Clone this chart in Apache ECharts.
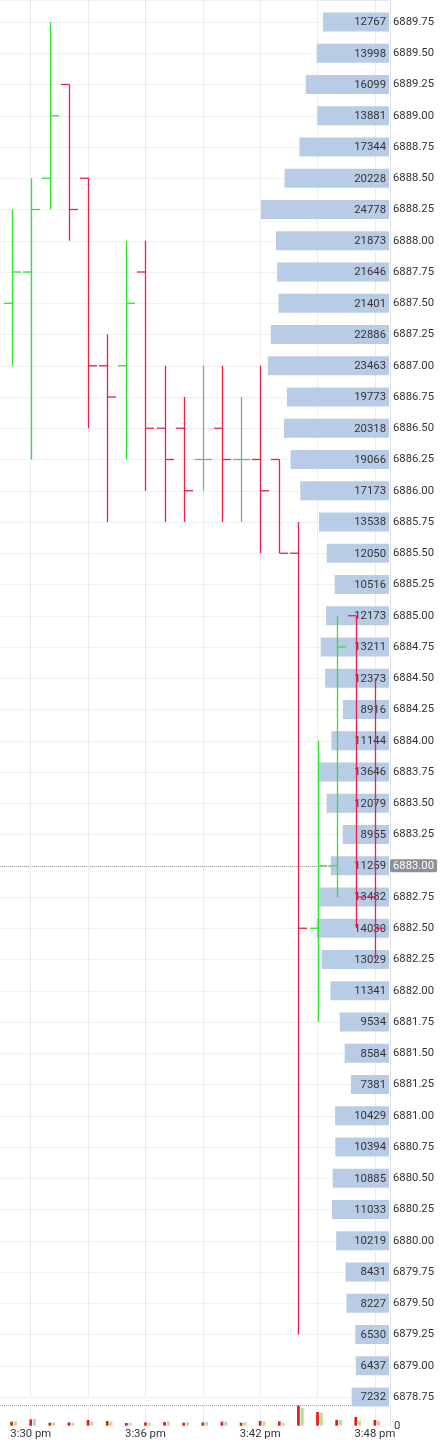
<!DOCTYPE html>
<html><head><meta charset="utf-8">
<style>html,body{margin:0;padding:0;background:#fff;}#chart{width:443px;height:1447px;}</style>
<script src="https://cdn.jsdelivr.net/npm/echarts@6/dist/echarts.min.js"></script>
</head><body><div id="chart"></div>
<script>
// ---- data ----
const minutes = [29,30,31,32,33,34,35,36,37,38,39,40,41,42,43,44,45,46,47,48]; // minutes after 3:00 pm
const opens  = [6887.50,6887.75,6888.50,6889.25,6888.50,6887.00,6887.00,6887.75,6886.50,6886.50,6886.25,6886.50,6886.25,6886.25,6886.25,6885.50,6882.50,6883.00,6885.00,6882.75];
const highs  = [6888.25,6888.50,6889.75,6889.25,6888.50,6887.25,6888.00,6888.00,6887.00,6886.75,6887.00,6887.00,6886.75,6887.00,6886.25,6885.75,6884.00,6885.00,6885.00,6884.50];
const lows   = [6887.00,6886.25,6888.25,6888.00,6886.50,6885.75,6886.25,6886.00,6885.75,6885.75,6886.00,6885.75,6885.75,6885.50,6885.50,6879.25,6881.75,6882.75,6882.50,6882.25];
const closes = [6887.75,6888.25,6889.00,6888.25,6887.00,6886.75,6887.50,6886.50,6886.25,6886.00,6886.25,6886.25,6886.25,6886.00,6885.50,6882.50,6883.00,6884.75,6882.75,6882.50];

const profilePrices = [6890.00,6889.75,6889.50,6889.25,6889.00,6888.75,6888.50,6888.25,6888.00,6887.75,6887.50,6887.25,6887.00,6886.75,6886.50,6886.25,6886.00,6885.75,6885.50,6885.25,6885.00,6884.75,6884.50,6884.25,6884.00,6883.75,6883.50,6883.25,6883.00,6882.75,6882.50,6882.25,6882.00,6881.75,6881.50,6881.25,6881.00,6880.75,6880.50,6880.25,6880.00,6879.75,6879.50,6879.25,6879.00,6878.75];
const profileVolumes = [12950,12767,13998,16099,13881,17344,20228,24778,21873,21646,21401,22886,23463,19773,20318,19066,17173,13538,12050,10516,12173,13211,12373,8916,11144,13646,12079,8955,11259,13482,14030,13029,11341,9534,8584,7381,10429,10394,10885,11033,10219,8431,8227,6530,6437,7232];

const sellVolumes = [400,630,300,330,570,470,270,330,370,300,330,400,300,470,430,2000,1370,570,870,570];
const buyVolumes  = [430,670,330,300,400,400,300,300,400,330,370,400,330,430,270,1770,1300,600,500,470];

const gridTimes = [30,33,36,39,42,45,48];
const timeTickValues = [30,36,42,48];
const timeTickLabels = ['3:30 pm','3:36 pm','3:42 pm','3:48 pm'];
const lastPrice = 6883.00;

// ---- settings ----
const FONT = 'Roboto, sans-serif';
const TXT = '#333333';
const FS = 11.3;
const UP = '#2ee62e', DOWN = '#ec1f4c', FLAT = '#969aa2';
const PROFILE_COLOR = '#b9cce6';
const GRID_COLOR = '#ececec';
const X_MIN = 28.3933, X_MAX = 48.79;
const P_MIN = 6878.75, P_MAX = 6889.926;
const VOL_MAX = 2070;
const PROFILE_MAX = 75494;
const GR = 53;

const ohlcData = minutes.map((t, i) => [t, opens[i], highs[i], lows[i], closes[i]]);
const profileData = profilePrices.map((p, i) => [profileVolumes[i], p]);
const volData = minutes.map((t, i) => [t, sellVolumes[i], buyVolumes[i]]);
const vGridLines = gridTimes.map(t => ({xAxis: t, lineStyle: {type: 'solid', color: GRID_COLOR, width: 1}, label: {show: false}}));

const chart = echarts.init(document.getElementById('chart'), null, {renderer: 'canvas'});
chart.setOption({
  animation: false,
  backgroundColor: '#ffffff',
  textStyle: {fontFamily: FONT},
  grid: [
    {left: 0, right: GR, top: 0, bottom: 50, outerBoundsMode: 'none', containLabel: false},
    {left: 0, right: GR, top: 1405, bottom: 21.3, outerBoundsMode: 'none', containLabel: false}
  ],
  xAxis: [
    {gridIndex: 0, type: 'value', min: X_MIN, max: X_MAX,
     axisLine: {show: false}, axisTick: {show: false}, axisLabel: {show: false},
     splitLine: {show: false}},
    {gridIndex: 0, type: 'value', inverse: true, min: 0, max: PROFILE_MAX, show: false,
     splitLine: {show: false}},
    {gridIndex: 1, type: 'value', min: X_MIN, max: X_MAX,
     axisLine: {show: false}, axisTick: {show: false},
     splitLine: {show: false},
     axisLabel: {margin: 3, fontSize: FS, color: TXT, fontFamily: FONT,
       customValues: timeTickValues,
       formatter: v => {
         const i = timeTickValues.findIndex(x => Math.abs(x - v) < 1e-6);
         return i >= 0 ? timeTickLabels[i] : '';
       }}}
  ],
  yAxis: [
    {gridIndex: 0, type: 'value', position: 'right', min: P_MIN, max: P_MAX, interval: 0.25,
     axisLine: {show: true, lineStyle: {color: '#e4e4e4'}}, axisTick: {show: false},
     splitLine: {show: true, lineStyle: {color: '#f0f0f0', width: 1}},
     axisLabel: {margin: 3, fontSize: FS, color: TXT, fontFamily: FONT,
       formatter: v => (v > 6889.8 || Math.abs(v - lastPrice) < 1e-6) ? '' : v.toFixed(2)}},
    {gridIndex: 1, type: 'value', position: 'right', min: 0, max: VOL_MAX, interval: VOL_MAX,
     axisLine: {show: true, lineStyle: {color: '#e4e4e4'}}, axisTick: {show: false},
     splitLine: {show: false},
     axisLabel: {margin: 4, fontSize: FS, color: TXT, fontFamily: FONT,
       formatter: v => v === 0 ? '0' : ''}}
  ],
  series: [
    {
      type: 'custom', name: 'profile', xAxisIndex: 1, yAxisIndex: 0, z: 2, silent: true,
      data: profileData,
      renderItem: (params, api) => {
        const v = api.value(0), p = api.value(1);
        const a = api.coord([v, p]), b = api.coord([0, p]);
        const h = 19;
        const right = b[0] - 1;
        const left = a[0] - 1;
        return {type: 'group', children: [
          {type: 'rect', shape: {x: left, y: a[1] - h / 2, width: right - left, height: h},
           style: {fill: PROFILE_COLOR}},
          {type: 'text', style: {text: String(v), x: right - 3, y: a[1] + 0.5, align: 'right',
           verticalAlign: 'middle', fill: TXT, fontSize: FS, fontFamily: FONT}}
        ]};
      }
    },
    {
      type: 'custom', name: 'ohlc', xAxisIndex: 0, yAxisIndex: 0, z: 3, silent: true,
      data: ohlcData,
      renderItem: (params, api) => {
        const t = api.value(0), o = api.value(1), hi = api.value(2), lo = api.value(3), c = api.value(4);
        const pH = api.coord([t, hi]), pL = api.coord([t, lo]);
        const pO = api.coord([t, o]), pC = api.coord([t, c]);
        const color = c > o ? UP : (c < o ? DOWN : FLAT);
        const st = {stroke: color, lineWidth: 1.3};
        const x = Math.round(pH[0]) + 0.5;
        return {type: 'group', children: [
          {type: 'line', shape: {x1: x, y1: pH[1], x2: x, y2: pL[1]}, style: st},
          {type: 'line', shape: {x1: x - 8.5, y1: pO[1], x2: x, y2: pO[1]}, style: st},
          {type: 'line', shape: {x1: x, y1: pC[1], x2: x + 8.5, y2: pC[1]}, style: st}
        ]};
      },
      markLine: {
        silent: true, symbol: 'none', z: 1, animation: false,
        lineStyle: {type: 'dotted', color: '#9a9a9a', width: 1},
        label: {show: true, position: 'end', distance: 0, formatter: lastPrice.toFixed(2),
          color: '#ffffff', backgroundColor: '#8c9199', padding: [1, 3, 1, 3], borderRadius: 2,
          fontSize: FS, fontFamily: FONT},
        data: [{yAxis: lastPrice}].concat(vGridLines)
      }
    },
    {
      type: 'custom', name: 'volume', xAxisIndex: 2, yAxisIndex: 1, z: 2, silent: true,
      data: volData,
      renderItem: (params, api) => {
        const t = api.value(0), s = api.value(1), b = api.value(2);
        const base = api.coord([t, 0]);
        const ps = api.coord([t, s]), pb = api.coord([t, b]);
        return {type: 'group', children: [
          {type: 'rect', shape: {x: base[0] - 1.35, y: ps[1], width: 2.7, height: base[1] - ps[1]},
           style: {fill: '#f01414'}},
          {type: 'rect', shape: {x: base[0] + 2.3, y: pb[1], width: 3, height: base[1] - pb[1]},
           style: {fill: '#b3e39a'}}
        ]};
      },
      markLine: {
        silent: true, symbol: 'none', z: 1, animation: false,
        lineStyle: {type: 'dotted', color: '#a0a0a0', width: 1},
        label: {show: false},
        data: [{yAxis: VOL_MAX}].concat(vGridLines)
      }
    }
  ]
});
</script>
</body></html>
